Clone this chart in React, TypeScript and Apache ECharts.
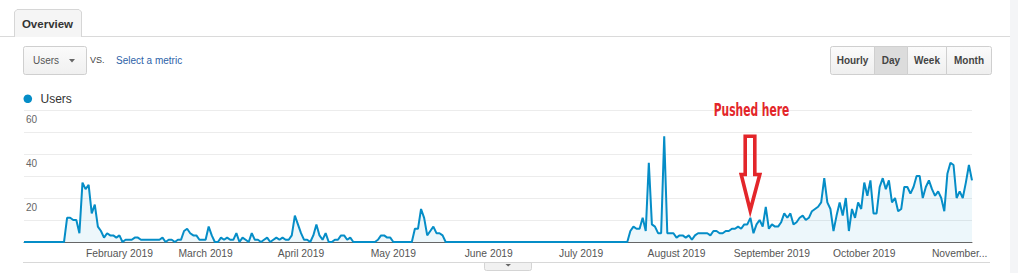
import React, { useEffect, useRef } from "react";
import * as echarts from "echarts";

// Daily "Users" values, 1 Jan 2019 .. 5 Nov 2019
const jan = [0, 0, 0, 0, 0, 0, 0, 0, 0, 0, 0, 0, 0, 0, 11, 11, 10, 10, 4, 27, 24, 26, 13, 17, 7, 5, 2, 4, 3, 3, 2];
const feb = [3, 0, 1, 1, 1, 2, 2, 1, 1, 1, 1, 1, 1, 1, 2, 0, 1, 1, 0, 1, 1, 5, 6, 4, 3, 3, 1, 1];
const mar = [1, 7, 3, 0, 0, 2, 1, 2, 1, 1, 4, 0, 2, 1, 0, 4, 1, 1, 0, 1, 2, 0, 1, 2, 1, 2, 1, 1, 3, 12, 8];
const apr = [4, 1, 1, 0, 3, 8, 3, 1, 4, 0, 0, 1, 1, 3, 3, 1, 2, 0, 0, 0, 0, 0, 0, 0, 0, 1, 3, 3, 2, 2];
const may = [0, 0, 0, 0, 0, 0, 0, 6, 6, 15, 11, 3, 5, 7, 4, 4, 3, 0, 0, 0, 0, 0, 0, 0, 0, 0, 0, 0, 0, 0, 0];
const jun = [0, 0, 0, 0, 0, 0, 0, 0, 0, 0, 0, 0, 0, 0, 0, 0, 0, 0, 0, 0, 0, 0, 0, 0, 0, 0, 0, 0, 0, 0];
const jul = [0, 0, 0, 0, 0, 0, 0, 0, 0, 0, 0, 0, 0, 0, 0, 0, 5, 7, 6, 6, 11, 5, 36, 8, 7, 4, 4, 48, 4, 4, 4];
const aug = [2, 3, 3, 2, 3, 1, 3, 4, 4, 4, 4, 3, 5, 5, 4, 4, 5, 5, 6, 6, 7, 6, 8, 8, 11, 4, 8, 10, 7, 16, 6];
const sep = [8, 7, 7, 9, 13, 11, 13, 8, 9, 11, 12, 10, 11, 14, 15, 16, 18, 29, 18, 15, 5, 12, 18, 12, 20, 5, 15, 11, 18, 15];
const oct = [27, 21, 28, 13, 13, 25, 29, 24, 28, 18, 20, 14, 15, 25, 25, 22, 25, 30, 30, 20, 25, 28, 24, 21, 23, 20, 14, 31, 36, 35, 20];
const nov = [23, 20, 27, 35, 28];

const users = [...jan, ...feb, ...mar, ...apr, ...may, ...jun, ...jul, ...aug, ...sep, ...oct, ...nov];

const startDate = "2019-01-01";
const monthTickLabels: Record<number, string> = {
  2: "February 2019",
  3: "March 2019",
  4: "April 2019",
  5: "May 2019",
  6: "June 2019",
  7: "July 2019",
  8: "August 2019",
  9: "September 2019",
  10: "October 2019",
  11: "November...",
};
const yTickLabels = ["20", "40", "60"];
const periodButtons = ["Hourly", "Day", "Week", "Month"];
const selectedPeriod = "Day";
const metricName = "Users";
const annotationText = "Pushed here";

const dates: string[] = (() => {
  const [y, m, d] = startDate.split("-").map(Number);
  return users.map((_, i) => {
    const dt = new Date(Date.UTC(y, m - 1, d + i));
    return dt.toISOString().slice(0, 10);
  });
})();

const FONT = "'Liberation Sans', Arial, sans-serif";
const BLUE = "#058dc7";
const RED = "#e3262a";

function txt(text: string, x: number, y: number, font: string, fill: string, align = "left") {
  return {
    type: "text",
    x,
    y,
    z: 100,
    style: {
      text,
      font,
      fill,
      align,
      verticalAlign: "middle",
      textAlign: align,
      textVerticalAlign: "middle",
    },
  };
}

export default function App() {
  const ref = useRef<HTMLDivElement>(null);

  useEffect(() => {
    if (!ref.current) return;
    const chart = echarts.init(ref.current, undefined, { renderer: "svg" });

    const btnEdges = [830.5, 874.5, 907.5, 946.5, 991.5];
    const buttons: any[] = [];
    periodButtons.forEach((name, i) => {
      const x0 = btnEdges[i];
      const x1 = btnEdges[i + 1];
      const sel = name === selectedPeriod;
      buttons.push({
        type: "rect",
        z: 99,
        shape: { x: x0, y: 46.5, width: x1 - x0, height: 28, r: i === 0 ? [2, 0, 0, 2] : i === periodButtons.length - 1 ? [0, 2, 2, 0] : 0 },
        style: {
          fill: sel
            ? "#dcdcdc"
            : new echarts.graphic.LinearGradient(0, 0, 0, 1, [
                { offset: 0, color: "#fbfbfb" },
                { offset: 1, color: "#efefef" },
              ]),
          stroke: "#cfcfcf",
          lineWidth: 1,
        },
      });
      buttons.push(txt(name, (x0 + x1) / 2, 60.5, `bold 10px ${FONT}`, "#444", "center"));
    });

    const option: any = {
      animation: false,
      grid: { left: 24, right: 46, top: 110, bottom: 31, containLabel: false },
      xAxis: {
        type: "category",
        data: dates,
        boundaryGap: false,
        axisLine: { show: true, lineStyle: { color: "#666", width: 1 } },
        axisTick: { show: false },
        splitLine: { show: false },
        axisLabel: {
          interval: (index: number, value: string) => index > 0 && value.slice(8) === "01",
          formatter: (value: string) => monthTickLabels[Number(value.slice(5, 7))] || "",
          color: "#555",
          fontFamily: FONT,
          fontSize: 10.3,
          margin: 6,
        },
      },
      yAxis: {
        type: "value",
        min: 0,
        max: 60,
        interval: 10,
        axisLine: { show: false },
        axisTick: { show: false },
        splitLine: { show: true, lineStyle: { color: "#ececec", width: 1 } },
        axisLabel: {
          inside: true,
          margin: 2,
          verticalAlign: "top",
          padding: [4, 0, 0, 0],
          color: "#666",
          fontFamily: FONT,
          fontSize: 10,
          formatter: (v: number) => (yTickLabels.includes(String(v)) ? String(v) : ""),
        },
      },
      series: [
        {
          type: "line",
          name: metricName,
          data: users,
          showSymbol: false,
          symbol: "none",
          lineStyle: { color: BLUE, width: 2 },
          areaStyle: { color: "rgba(5,141,199,0.1)" },
          z: 3,
        },
      ],
      graphic: [
        // right grey strip
        { type: "rect", z: 90, shape: { x: 1010, y: 0, width: 8, height: 273 }, style: { fill: "#f4f5f7" } },
        // tab line
        { type: "line", z: 99, shape: { x1: 0, y1: 36.5, x2: 14.5, y2: 36.5 }, style: { stroke: "#dadada", lineWidth: 1 } },
        { type: "line", z: 99, shape: { x1: 81.5, y1: 36.5, x2: 1010, y2: 36.5 }, style: { stroke: "#dadada", lineWidth: 1 } },
        { type: "rect", z: 99, shape: { x: 14.5, y: 9.5, width: 67, height: 27.5, r: [3, 3, 0, 0] }, style: { fill: "#f5f5f5", stroke: "none" } },
        { type: "polyline", z: 99, shape: { points: [[14.5, 37], [14.5, 12], [17, 9.5], [79, 9.5], [81.5, 12], [81.5, 37]] }, style: { stroke: "#d6d6d6", lineWidth: 1, fill: "none" } },
        txt("Overview", 47.5, 23.5, `bold 11.5px ${FONT}`, "#333", "center"),
        // metric dropdown
        {
          type: "rect",
          z: 99,
          shape: { x: 23.5, y: 46.5, width: 63, height: 28, r: 2 },
          style: {
            fill: new echarts.graphic.LinearGradient(0, 0, 0, 1, [
              { offset: 0, color: "#fbfbfb" },
              { offset: 1, color: "#f0f0f0" },
            ]),
            stroke: "#cfcfcf",
            lineWidth: 1,
          },
        },
        txt(metricName, 33, 60.5, `10px ${FONT}`, "#555"),
        { type: "polygon", z: 100, shape: { points: [[69, 59], [75, 59], [72, 62.5]] }, style: { fill: "#666" } },
        txt("VS.", 90, 59.5, `9px ${FONT}`, "#444"),
        txt("Select a metric", 116, 60.5, `10px ${FONT}`, "#2d62a8"),
        ...buttons,
        // legend
        { type: "circle", z: 100, shape: { cx: 27.8, cy: 98.8, r: 4.3 }, style: { fill: BLUE } },
        txt(metricName, 40.5, 99, `12px ${FONT}`, "#333"),
        // bottom divider & handle
        { type: "line", z: 99, shape: { x1: 23, y1: 262.5, x2: 990, y2: 262.5 }, style: { stroke: "#d8d8d8", lineWidth: 1 } },
        {
          type: "rect",
          z: 99,
          shape: { x: 484.5, y: 262.5, width: 47, height: 8, r: [0, 0, 2, 2] },
          style: { fill: "#f1f1f1", stroke: "#d4d4d4", lineWidth: 1 },
        },
        { type: "polygon", z: 100, shape: { points: [[505.5, 264], [511, 264], [508.2, 266.5]] }, style: { fill: "#666" } },
        // annotation
        {
          type: "text",
          x: 751.5,
          y: 110.5,
          z: 101,
          scaleX: 0.66,
          originX: 0,
          originY: 0,
          style: {
            text: annotationText,
            font: `bold 18px 'Liberation Sans Narrow', 'DejaVu Sans Condensed', sans-serif`,
            fill: RED,
            align: "center",
            verticalAlign: "middle",
            textAlign: "center",
            textVerticalAlign: "middle",
          },
        },
        {
          type: "polygon",
          z: 101,
          shape: {
            points: [
              [745.2, 136.2],
              [754.8, 136.2],
              [754.8, 174.5],
              [759.8, 174.5],
              [750.2, 210.5],
              [741.2, 174.5],
              [745.2, 174.5],
            ],
          },
          style: { fill: "none", stroke: RED, lineWidth: 3.6, lineJoin: "miter" },
        },
      ],
    };

    chart.setOption(option);
    return () => chart.dispose();
  }, []);

  return (
    <div
      ref={ref}
      style={{ position: "fixed", left: 0, top: 0, width: 1018, height: 273, background: "#ffffff" }}
    />
  );
}
